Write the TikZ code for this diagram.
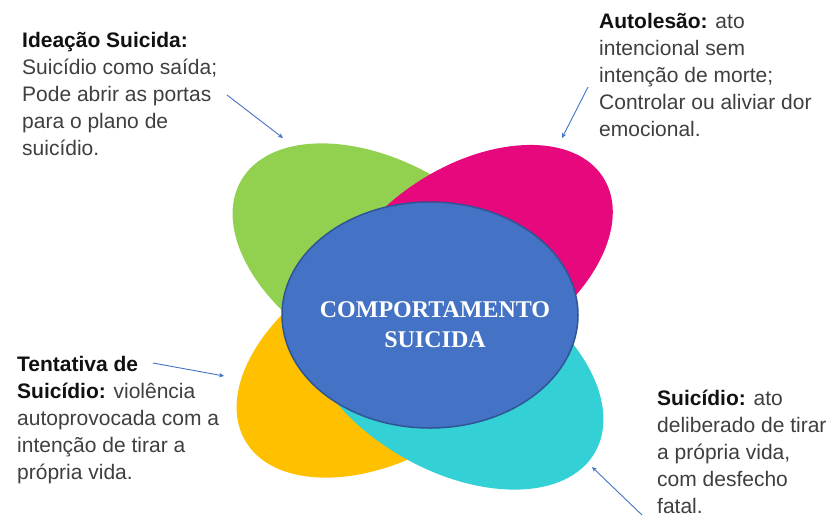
\documentclass[tikz,border=0pt]{standalone}
\usepackage{fontspec}
\setmainfont{Liberation Sans}
\newfontfamily\serifbold{Liberation Serif}
\usetikzlibrary{shapes.geometric,arrows.meta}
\definecolor{cgreen}{HTML}{92D050}
\definecolor{cpink}{HTML}{E8087E}
\definecolor{cyellow}{HTML}{FFC000}
\definecolor{ccyan}{HTML}{33D0D5}
\definecolor{cblue}{HTML}{4472C4}
\definecolor{cblueedge}{HTML}{2F5597}
\definecolor{bodygray}{HTML}{3F3F3F}
\definecolor{headblack}{HTML}{111111}
\definecolor{arrowblue}{HTML}{4472C4}
\tikzset{
  petal/.style={ellipse, draw=none, inner sep=0pt},
  desc/.style={anchor=base west, align=left, inner sep=0pt, text=bodygray,
    font=\fontsize{21}{27}\selectfont},
  pointer/.style={draw=arrowblue, line width=0.9pt, -{Stealth[length=5pt,width=4.5pt]}},
}
\newcommand{\hd}[1]{\textbf{\color{headblack}#1}}
\begin{document}
\begin{tikzpicture}[x=1pt,y=-1pt]
\useasboundingbox (0,0) rectangle (834,517);
\fill[white] (0,0) rectangle (834,517);
% petals
\node[petal, fill=cgreen, minimum width=330pt, minimum height=200pt, rotate=-30] (green) at (384,263) {};
\node[petal, fill=cpink, minimum width=310pt, minimum height=190pt, rotate=32] (pink) at (472,260) {};
\node[petal, fill=cyellow, minimum width=330pt, minimum height=200pt, rotate=30] (yellow) at (388,358) {};
\node[petal, fill=ccyan, minimum width=330pt, minimum height=200pt, rotate=-30] (cyan) at (452,370) {};
% centre
\node[ellipse, fill=cblue, draw=cblueedge, line width=1.5pt, minimum width=296pt, minimum height=226pt, inner sep=0pt] (core) at (430,315) {};
\node[anchor=base, align=center, text=white, inner sep=0pt,
  font=\serifbold\bfseries\fontsize{24}{30}\selectfont] (coretext) at (435,347) {COMPORTAMENTO\\SUICIDA};
% descriptions (anchored at the baseline of the last line)
\node[desc] (ideacao) at (22,155) {\hd{Ideação Suicida:}\\Suicídio como saída;\\Pode abrir as portas\\para o plano de\\suicídio.};
\node[desc] (autolesao) at (599,136) {\hd{Autolesão:} ato\\intencional sem\\intenção de morte;\\Controlar ou aliviar dor\\emocional.};
\node[desc] (tentativa) at (17,479) {\hd{Tentativa de}\\\hd{Suicídio:} violência\\autoprovocada com a\\intenção de tirar a\\própria vida.};
\node[desc] (suicidio) at (657,513) {\hd{Suicídio:} ato\\deliberado de tirar\\a própria vida,\\com desfecho\\fatal.};
% pointers
\coordinate (p1s) at (227,95);  \coordinate (p1e) at (283,138);
\coordinate (p2s) at (588,87);  \coordinate (p2e) at (562,138);
\coordinate (p3s) at (153,363); \coordinate (p3e) at (224,376);
\coordinate (p4s) at (642,515); \coordinate (p4e) at (592,467);
\draw[pointer] (p1s) -- (p1e);
\draw[pointer] (p2s) -- (p2e);
\draw[pointer] (p3s) -- (p3e);
\draw[pointer] (p4s) -- (p4e);
\end{tikzpicture}
\end{document}
